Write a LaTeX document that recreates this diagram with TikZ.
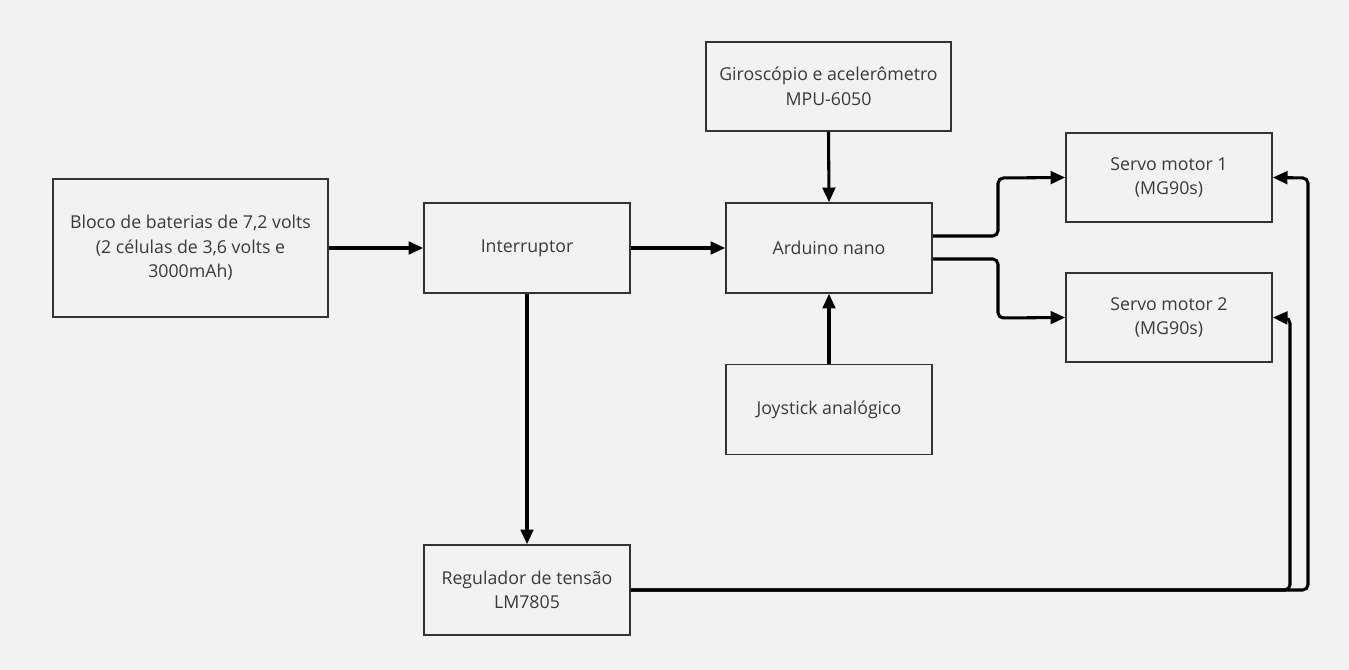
\documentclass[tikz,border=0pt]{standalone}
\usepackage{fontspec}
\setmainfont{Open Sans}
\usetikzlibrary{arrows.meta}
\definecolor{bgc}{HTML}{F2F2F2}
\definecolor{boxc}{HTML}{333333}
\definecolor{txtc}{HTML}{3A3A3A}
\begin{document}
\begin{tikzpicture}[x=0.75pt,y=-0.75pt,
  blk/.style={draw=boxc, line width=1.2pt, fill=bgc, text=txtc, align=center,
    font=\fontsize{13.3}{18.4}\selectfont, inner sep=2pt},
  conn/.style={draw=black, line width=2.3pt, rounded corners=4pt,
    -{Triangle[length=11pt,width=9.5pt]}}]
\fill[bgc] (0,0) rectangle (1349,670);
\useasboundingbox (0,0) rectangle (1349,670);
\node[blk, minimum width=206.25pt, minimum height=103.5pt] (bat) at (190.5,248)
  {Bloco de baterias de 7,2 volts\\(2 células de 3,6 volts e\\3000mAh)};
\node[blk, minimum width=154.5pt, minimum height=67.5pt] (int) at (527,248) {Interruptor};
\node[blk, minimum width=154.5pt, minimum height=67.5pt] (ard) at (829,248) {Arduino nano};
\node[blk, minimum width=183.75pt, minimum height=66.75pt] (gyr) at (828.5,86.5)
  {Giroscópio e acelerômetro\\MPU-6050};
\node[blk, minimum width=154.5pt, minimum height=67.5pt] (joy) at (829,409.5) {Joystick analógico};
\node[blk, minimum width=154.5pt, minimum height=66.75pt] (sv1) at (1169,177.5)
  {Servo motor 1\\(MG90s)};
\node[blk, minimum width=154.5pt, minimum height=66.75pt] (sv2) at (1169,317.5)
  {Servo motor 2\\(MG90s)};
\node[blk, minimum width=154.5pt, minimum height=67.5pt] (reg) at (527,590)
  {Regulador de tensão\\LM7805};
\draw[conn] (bat.east) -- (int.west);
\draw[conn] (int.east) -- (ard.west);
\draw[conn] (gyr.south) -- (ard.north);
\draw[conn] (joy.north) -- (ard.south);
\draw[conn] (int.south) -- (reg.north);
\draw[conn] ([yshift=9pt]ard.east) -- (998,236) -- (998,178) -- (sv1.west);
\draw[conn] ([yshift=-8.25pt]ard.east) -- (998,259) -- (998,318) -- (sv2.west);
\draw[conn] (reg.east) -- (1308,590) -- (1308,178) -- (sv1.east);
\draw[conn] (reg.east) -- (1290,590) -- (1290,318) -- (sv2.east);
\end{tikzpicture}
\end{document}
